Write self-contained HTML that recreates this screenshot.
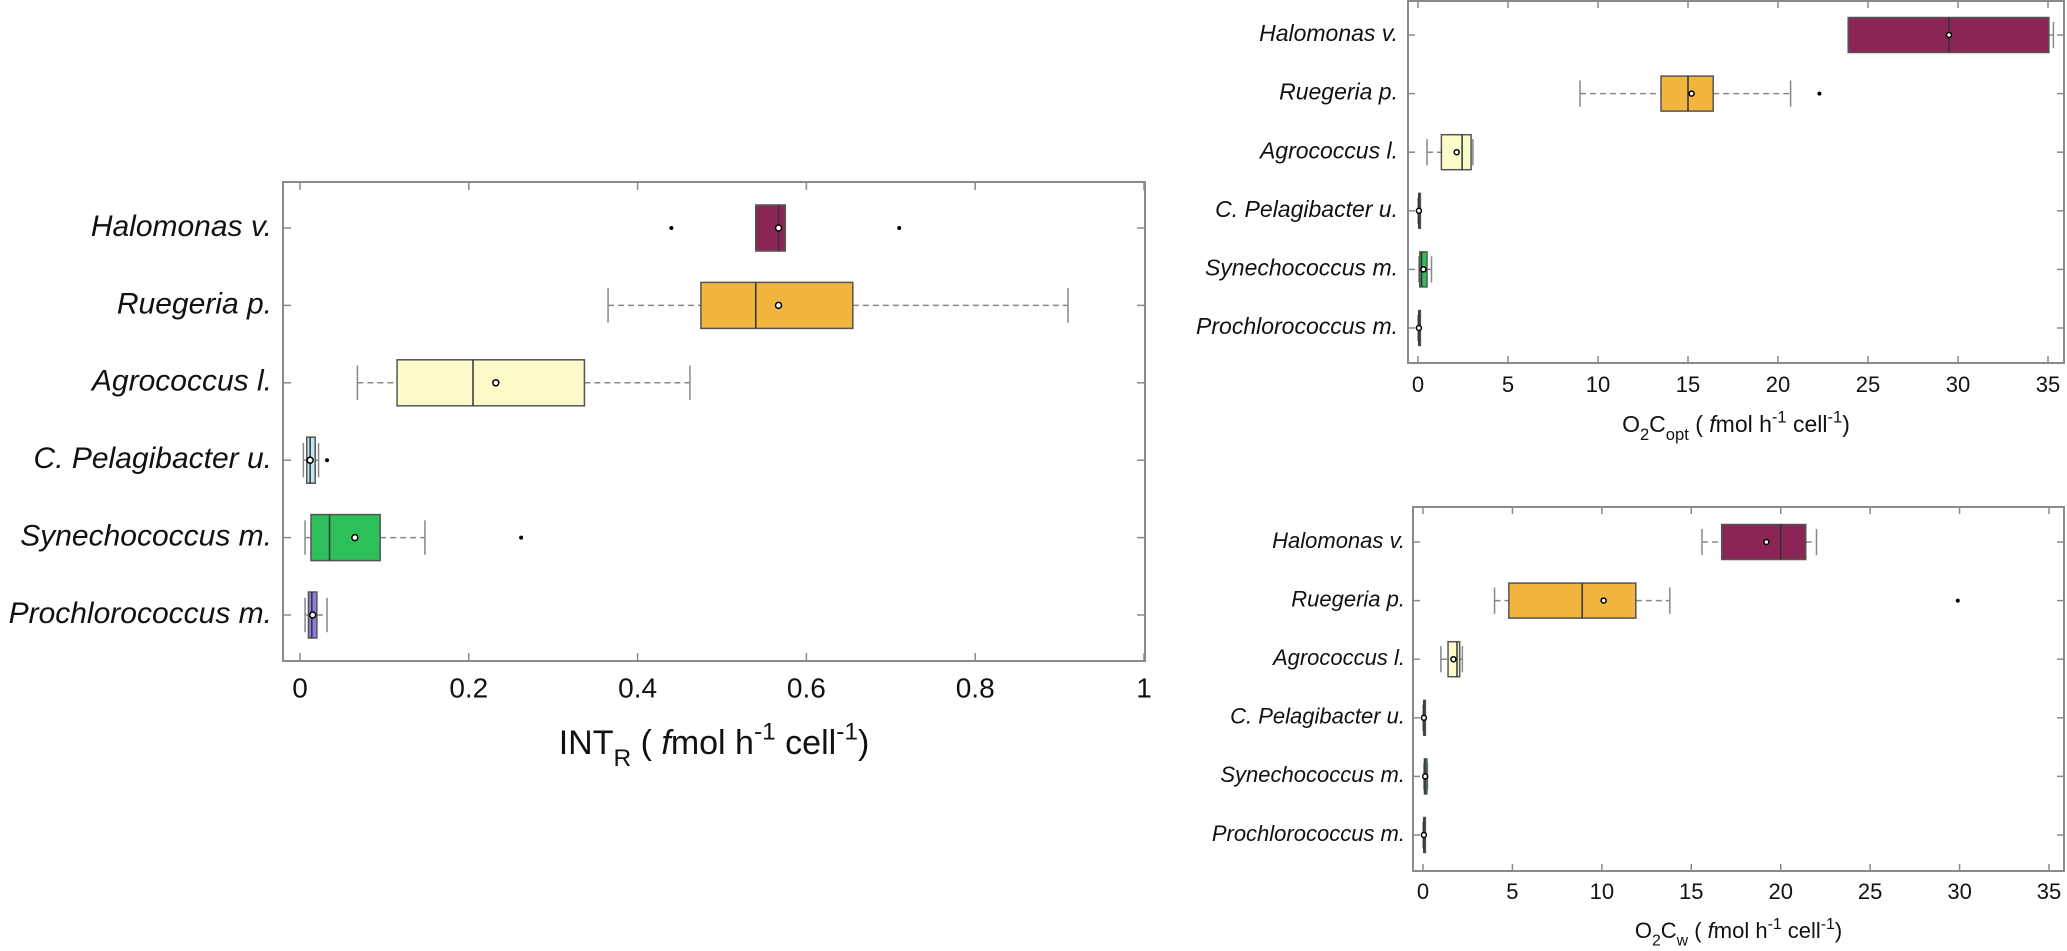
<!DOCTYPE html>
<html><head><meta charset="utf-8"><style>
html,body{margin:0;padding:0;background:#fff;}
svg{display:block;font-family:"Liberation Sans",Arial,sans-serif;}
</style></head><body>
<svg id="fig" width="2067" height="951" viewBox="0 0 2067 951" xmlns="http://www.w3.org/2000/svg"></svg>
<script>
const categories = ["Halomonas v.","Ruegeria p.","Agrococcus l.","C. Pelagibacter u.","Synechococcus m.","Prochlorococcus m."];
const colors = ["#8a2555","#f2b53f","#fbfcca","#c6e6f2","#2dbf5a","#8c7ddf"];

// Chart A: INT_R
const intLo   = [0.54, 0.365, 0.068, 0.004, 0.006, 0.006];
const intQ1   = [0.54, 0.475, 0.115, 0.008, 0.013, 0.010];
const intMed  = [0.567,0.540, 0.205, 0.012, 0.035, 0.014];
const intQ3   = [0.575,0.655, 0.337, 0.018, 0.095, 0.020];
const intHi   = [0.575,0.910, 0.462, 0.022, 0.148, 0.032];
const intMean = [0.567,0.567, 0.232, 0.012, 0.065, 0.015];
const intOut  = [[0.44,0.71],[],[],[0.032],[0.262],[]];
const intTicks = [0,0.2,0.4,0.6,0.8,1];
const intTickLabels = ["0","0.2","0.4","0.6","0.8","1"];

// Chart B: O2C_opt
const optLo   = [23.9, 9.0, 0.5, 0.0, 0.05, 0.0];
const optQ1   = [23.9, 13.5, 1.3, 0.05, 0.1, 0.05];
const optMed  = [29.5, 15.0, 2.45, 0.05, 0.2, 0.05];
const optQ3   = [35.05,16.4, 2.95, 0.08, 0.5, 0.08];
const optHi   = [35.3, 20.7, 3.05, 0.1, 0.75, 0.1];
const optMean = [29.5, 15.2, 2.15, 0.05, 0.3, 0.05];
const optOut  = [[],[22.3],[],[],[],[]];

// Chart C: O2C_w
const wLo   = [15.6, 4.0, 1.0, 0.0, 0.05, 0.0];
const wQ1   = [16.7, 4.8, 1.4, 0.05, 0.08, 0.05];
const wMed  = [20.0, 8.9, 1.9, 0.05, 0.12, 0.05];
const wQ3   = [21.4, 11.9, 2.05, 0.08, 0.22, 0.08];
const wHi   = [22.0, 13.8, 2.2, 0.1, 0.25, 0.1];
const wMean = [19.2, 10.1, 1.7, 0.05, 0.12, 0.05];
const wOut  = [[],[29.9],[],[],[],[]];
const o2Ticks = [0,5,10,15,20,25,30,35];
const o2TickLabels = ["0","5","10","15","20","25","30","35"];

const NS = "http://www.w3.org/2000/svg";
const fig = document.getElementById("fig");
function mk(tag, attrs, parent, text){
  const e = document.createElementNS(NS, tag);
  for (const k in attrs) e.setAttribute(k, attrs[k]);
  if (text !== undefined) e.textContent = text;
  (parent||fig).appendChild(e);
  return e;
}

function drawChart(cfg, lo, q1, med, q3, hi, mean, outs, ticks, tickLabels){
  const g = mk("g", {});
  
  
  const sx = v => cfg.x0 + v * (cfg.x1 - cfg.x0) / cfg.vmax;
  const sy = i => cfg.y0 + i * cfg.dy;
  const fr = mk("rect", {x:cfg.L, y:cfg.T, width:cfg.R-cfg.L, height:cfg.B-cfg.T, fill:"none", stroke:"#8a8a8a", "stroke-width":2}, g);
  
  
  ticks.forEach((t,k)=>{
    const x = sx(t);
    mk("line",{x1:x,y1:cfg.B,x2:x,y2:cfg.B-cfg.tl,stroke:"#8a8a8a","stroke-width":1.5},g);
    mk("line",{x1:x,y1:cfg.T,x2:x,y2:cfg.T+cfg.tl,stroke:"#8a8a8a","stroke-width":1.5},g);
    const tx = mk("text",{x:x,y:cfg.tickY,"font-size":cfg.tickFs,"text-anchor":"middle","dominant-baseline":"middle",fill:"#111"},g,tickLabels[k]);
    
    
  });
  categories.forEach((c,i)=>{
    const y = sy(i);
    mk("line",{x1:cfg.L,y1:y,x2:cfg.L+cfg.tl,y2:y,stroke:"#8a8a8a","stroke-width":1.5},g);
    mk("line",{x1:cfg.R,y1:y,x2:cfg.R-cfg.tl,y2:y,stroke:"#8a8a8a","stroke-width":1.5},g);
    const lt = mk("text",{x:cfg.labX,y:y,"font-size":cfg.labFs,"font-style":"italic","text-anchor":"end","dominant-baseline":"middle",fill:"#111"},g,c);
    
    
    const h = cfg.bh, cap = cfg.bh*0.75;
    const bg = mk("g",{},g);
    
    
    mk("line",{x1:sx(lo[i]),y1:y,x2:sx(q1[i]),y2:y,stroke:"#888","stroke-width":1.5,"stroke-dasharray":"6,4"},bg);
    mk("line",{x1:sx(q3[i]),y1:y,x2:sx(hi[i]),y2:y,stroke:"#888","stroke-width":1.5,"stroke-dasharray":"6,4"},bg);
    mk("line",{x1:sx(lo[i]),y1:y-cap,x2:sx(lo[i]),y2:y+cap,stroke:"#888","stroke-width":1.5},bg);
    mk("line",{x1:sx(hi[i]),y1:y-cap,x2:sx(hi[i]),y2:y+cap,stroke:"#888","stroke-width":1.5},bg);
    const bw = Math.max(sx(q3[i])-sx(q1[i]), 1.5);
    mk("rect",{x:sx(q1[i]),y:y-h,width:bw,height:2*h,fill:colors[i],stroke:"#555","stroke-width":1.5},bg);
    mk("line",{x1:sx(med[i]),y1:y-h,x2:sx(med[i]),y2:y+h,stroke:"#333","stroke-width":1.5},bg);
    mk("circle",{cx:sx(mean[i]),cy:y,r:cfg.mr,fill:"#fff",stroke:"#000","stroke-width":1.5},bg);
    outs[i].forEach(o=>{
      const d = mk("circle",{cx:sx(o),cy:y,r:2,fill:"#000"},bg);
      
      
    });
  });
  // title: pieces [text, kind]
  const fs = cfg.titleFs, small = fs*0.72;
  const tt = mk("text",{x:(cfg.L+cfg.R)/2,y:cfg.titleY,"font-size":fs,"text-anchor":"middle",fill:"#111"},g);
  
  
  let off = 0;
  cfg.title.forEach(p=>{
    const target = p[1]==="sub" ? fs*0.35 : (p[1]==="sup" ? -fs*0.42 : 0);
    const a = {dy: target - off};
    if (p[1]==="sub"||p[1]==="sup") a["font-size"] = small;
    if (p[1]==="it") a["font-style"] = "italic";
    mk("tspan", a, tt, p[0]);
    off = target;
  });
}

drawChart({name:"intr-chart",L:283,R:1145,T:182,B:661,x0:300,x1:1144,vmax:1,y0:228,dy:77.4,bh:23,tl:8,
  tickY:690,tickFs:28,labX:272,labFs:30,titleY:754,titleFs:34,mr:3,
  title:[["INT","n"],["R","sub"],[" ( ","n"],["f","it"],["mol h","n"],["-1","sup"],[" cell","n"],["-1","sup"],[")","n"]]},
  intLo,intQ1,intMed,intQ3,intHi,intMean,intOut,intTicks,intTickLabels);

drawChart({name:"o2copt-chart",L:1408,R:2064,T:1,B:363,x0:1418,x1:2048,vmax:35,y0:35,dy:58.6,bh:17.5,tl:7,
  tickY:386,tickFs:22,labX:1398,labFs:23,titleY:432,titleFs:23,mr:2.5,
  title:[["O","n"],["2","sub"],["C","n"],["opt","sub"],[" ( ","n"],["f","it"],["mol h","n"],["-1","sup"],[" cell","n"],["-1","sup"],[")","n"]]},
  optLo,optQ1,optMed,optQ3,optHi,optMean,optOut,o2Ticks,o2TickLabels);

drawChart({name:"o2cw-chart",L:1413,R:2064,T:507,B:871,x0:1423,x1:2049,vmax:35,y0:542,dy:58.6,bh:17.5,tl:7,
  tickY:893,tickFs:22,labX:1405,labFs:22,titleY:938,titleFs:22,mr:2.5,
  title:[["O","n"],["2","sub"],["C","n"],["w","sub"],[" ( ","n"],["f","it"],["mol h","n"],["-1","sup"],[" cell","n"],["-1","sup"],[")","n"]]},
  wLo,wQ1,wMed,wQ3,wHi,wMean,wOut,o2Ticks,o2TickLabels);
</script>
</body></html>
